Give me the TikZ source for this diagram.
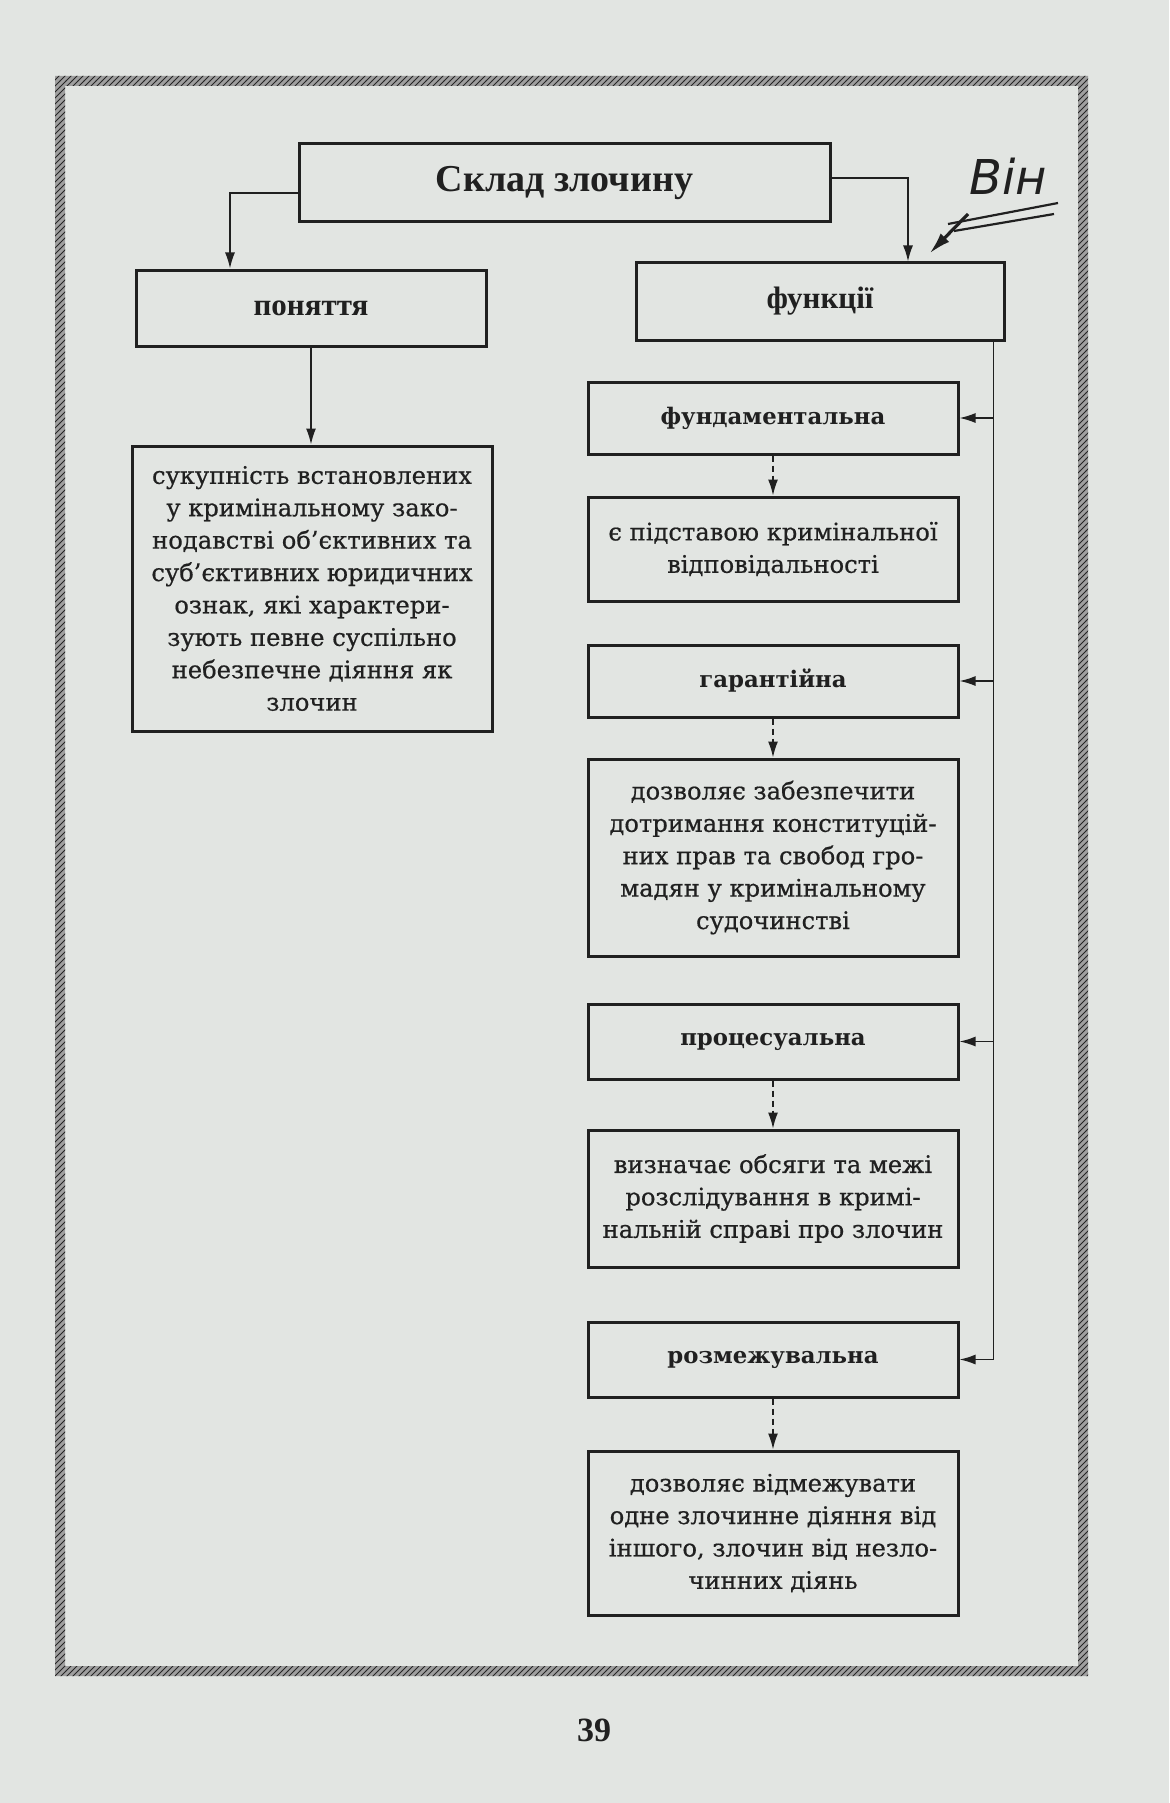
\documentclass[tikz,border=0pt]{standalone}
\usepackage{fontspec}
\setmainfont{DejaVu Serif}
\newfontfamily\bodyfont[FakeBold=0.6]{DejaVu Serif}
\newfontfamily\titlefont{Liberation Serif}
\newfontfamily\handfont{DejaVu Sans}
\usetikzlibrary{arrows.meta,patterns}
\definecolor{paper}{RGB}{226,229,226}
\definecolor{ink}{RGB}{32,32,32}
\tikzset{
  box/.style={draw=ink, line width=1.5pt, inner sep=0pt, align=center, text=ink,
    font=\bodyfont\fontsize{12.1}{16.2}\selectfont},
  headbox/.style={box, font=\bfseries\fontsize{11.4}{14}\selectfont},
  topbox/.style={box, font=\titlefont\bfseries\fontsize{15.5}{18}\selectfont},
  conn/.style={draw=ink, line width=0.8pt, -{Latex[length=8pt,width=5pt]}},
  dconn/.style={conn, dash pattern=on 3pt off 2pt},
}
\begin{document}
\begin{tikzpicture}[x=0.5pt,y=-0.5pt]
\fill[paper] (0,0) rectangle (1169,1803);
\useasboundingbox (0,0) rectangle (1169,1803);
% hatched frame
\path[preaction={fill=gray!75, even odd rule}, even odd rule,
      pattern=north east lines, pattern color=black!85]
  (55,76) rectangle (1088,1676) (65,86) rectangle (1078,1666);

% top level
\node[box, font=\titlefont\bfseries\fontsize{19}{22}\selectfont,
      minimum width=265.5pt, minimum height=39pt] (title) at (564.5,183) {Склад злочину};
\node[topbox, minimum width=175pt, minimum height=38pt] (pon) at (311,308) {поняття};
\node[topbox, minimum width=184pt, minimum height=38.5pt] (funk) at (820,301.5) {функції};
\node[box, minimum width=180pt, minimum height=142.5pt] (def) at (312,588.5)
  {сукупність встановлених\\у кримінальному зако-\\нодавстві об’єктивних та\\суб’єктивних юридичних\\ознак, які характери-\\зують певне суспільно\\небезпечне діяння як\\злочин};

% right column
\node[headbox, minimum width=185pt, minimum height=36pt] (fund) at (773,418) {фундаментальна};
\node[box, minimum width=185pt, minimum height=52pt] (fundD) at (773,549)
  {є підставою кримінальної\\відповідальності};
\node[headbox, minimum width=185pt, minimum height=36pt] (gar) at (773,681) {гарантійна};
\node[box, minimum width=185pt, minimum height=98.5pt] (garD) at (773,857.5)
  {дозволяє забезпечити\\дотримання конституцій-\\них прав та свобод гро-\\мадян у кримінальному\\судочинстві};
\node[headbox, minimum width=185pt, minimum height=37.5pt] (proc) at (773,1041.5) {процесуальна};
\node[box, minimum width=185pt, minimum height=68.5pt] (procD) at (773,1198.5)
  {визначає обсяги та межі\\розслідування в кримі-\\нальній справі про злочин};
\node[headbox, minimum width=185pt, minimum height=37.5pt] (rozm) at (773,1359.5) {розмежувальна};
\node[box, minimum width=185pt, minimum height=82pt] (rozmD) at (773,1533)
  {дозволяє відмежувати\\одне злочинне діяння від\\іншого, злочин від незло-\\чинних діянь};

% connectors
\draw[conn] ([yshift=-5pt]title.west) -| ([xshift=-40.5pt]pon.north);
\draw[conn] ([yshift=2.5pt]title.east) -| ([xshift=44pt]funk.north);
\draw[conn] (pon.south) -- (pon.south |- def.north);

\coordinate (busTop) at ([xshift=-6pt]funk.south east);
\draw[conn] (busTop) |- (rozm.east);
\draw[conn] (busTop |- fund.east) -- (fund.east);
\draw[conn] (busTop |- gar.east) -- (gar.east);
\draw[conn] (busTop |- proc.east) -- (proc.east);

\draw[dconn] (fund.south) -- (fund.south |- fundD.north);
\draw[dconn] (gar.south) -- (gar.south |- garD.north);
\draw[dconn] (proc.south) -- (proc.south |- procD.north);
\draw[dconn] (rozm.south) -- (rozm.south |- rozmD.north);

% handwritten note
\node[font=\handfont\itshape\fontsize{24}{24}\selectfont, text=ink, inner sep=1pt] (vin) at (1008,176) {Він};
\draw[ink, line width=1.1pt] (948,224) -- (1058,203);
\draw[ink, line width=1.1pt] (954,231) -- (1054,214);
\coordinate (vinArrow) at (968,214);
\draw[ink, line width=1.6pt, -{Latex[length=11pt,width=6pt]}] (vinArrow) -- ([xshift=-38pt,yshift=4pt]funk.north east);

% page number
\node[font=\titlefont\bfseries\fontsize{17}{20}\selectfont, text=ink] (page) at (594,1730) {39};
\end{tikzpicture}
\end{document}
